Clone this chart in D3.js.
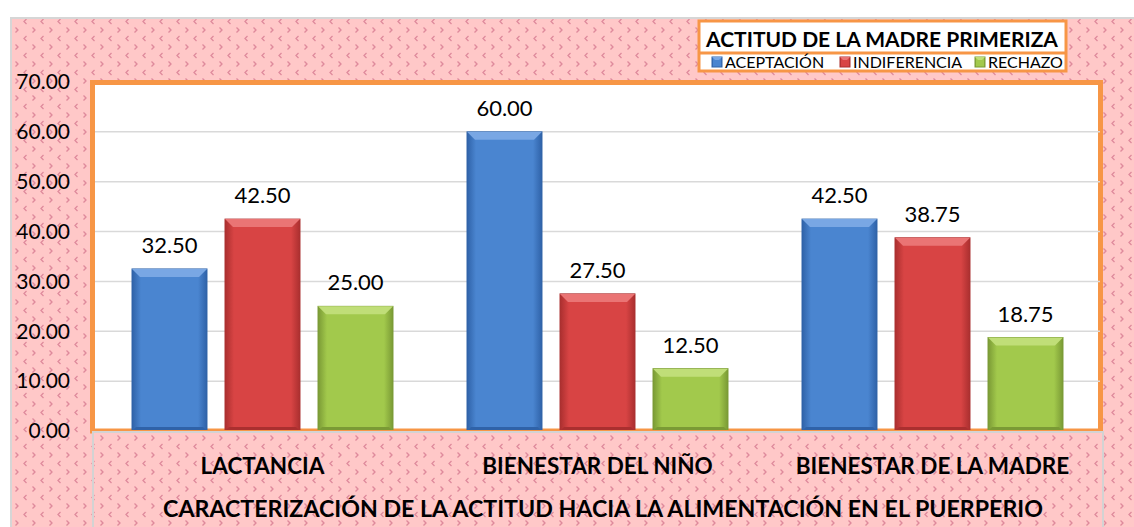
<!DOCTYPE html>
<html>
<head>
<meta charset="utf-8">
<script src="https://cdn.jsdelivr.net/npm/d3@7"></script>
<style>
  body { margin: 0; background: #fff; }
  svg text { font-family: Lato, "Open Sans", sans-serif; }
</style>
</head>
<body>
<svg id="chart" width="1134" height="527"></svg>
<script>
'use strict';

// data
const categories = ['LACTANCIA', 'BIENESTAR DEL NIÑO', 'BIENESTAR DE LA MADRE'];
const series = ['ACEPTACIÓN', 'INDIFERENCIA', 'RECHAZO'];
const aceptacion = [32.50, 60.00, 42.50];
const indiferencia = [42.50, 27.50, 38.75];
const rechazo = [25.00, 12.50, 18.75];
const yTicks = [0, 10, 20, 30, 40, 50, 60, 70];
const legendTitle = 'ACTITUD DE LA MADRE PRIMERIZA';
const axisTitle = 'CARACTERIZACIÓN DE LA ACTITUD HACIA LA ALIMENTACIÓN EN EL PUERPERIO';

const values = [aceptacion, indiferencia, rechazo];
const colors = {
	'ACEPTACIÓN':   { mid: '#4a85d0', edge: '#2f62a8', top: '#79a7e4' },
	'INDIFERENCIA': { mid: '#d84444', edge: '#aa2f2f', top: '#ea7474' },
	'RECHAZO':      { mid: '#a2c94c', edge: '#7a9a35', top: '#c0de78' }
};

const svg = d3.select('#chart');
const defs = svg.append('defs');

// - pink background with little chevrons
const pat = defs.append('pattern')
	.attr('id', 'pinkdots')
	.attr('patternUnits', 'userSpaceOnUse')
	.attr('width', 17).attr('height', 17);
pat.append('rect').attr('width', 17).attr('height', 17).attr('fill', '#ffc8c8');
pat.append('path').attr('d', 'M9.5,2 L7,4.5 L9.5,7').attr('fill', 'none').attr('stroke', '#df8a9c').attr('stroke-width', 1.3);
pat.append('path').attr('d', 'M15.5,10.5 L18,13 L15.5,15.5 M-1.5,10.5 L1,13 L-1.5,15.5').attr('fill', 'none').attr('stroke', '#df8a9c').attr('stroke-width', 1.3);

// - horizontal gradients for bars
series.forEach((s, i) => {
	const g = defs.append('linearGradient').attr('id', 'grad' + i)
		.attr('x1', 0).attr('x2', 1).attr('y1', 0).attr('y2', 0);
	g.append('stop').attr('offset', '0%').attr('stop-color', colors[s].edge);
	g.append('stop').attr('offset', '12%').attr('stop-color', colors[s].mid);
	g.append('stop').attr('offset', '88%').attr('stop-color', colors[s].mid);
	g.append('stop').attr('offset', '100%').attr('stop-color', colors[s].edge);
});

// outer chart area
svg.append('rect')
	.attr('x', 11).attr('y', 18).attr('width', 1140).attr('height', 530)
	.attr('fill', 'url(#pinkdots)').attr('stroke', '#d6d6d6').attr('stroke-width', 2);

// scales
const x0 = d3.scaleBand().domain(categories).range([95, 1100]);
const x1 = d3.scaleBand().domain(series).range([0, x0.bandwidth()])
	.paddingInner(0.194).paddingOuter(0.398);
const y = d3.scaleLinear().domain([0, 70]).range([431, 82]);

// plot area
svg.append('rect')
	.attr('x', 92.5).attr('y', 82.5).attr('width', 1008).attr('height', 348.5)
	.attr('fill', '#fff').attr('stroke', '#f79646').attr('stroke-width', 5);

// gridlines
svg.append('g')
	.selectAll('line')
	.data(yTicks.filter(d => d > 0 && d < 70))
	.join('line')
		.attr('x1', 95).attr('x2', 1100)
		.attr('y1', d => y(d)).attr('y2', d => y(d))
		.attr('stroke', '#d9d9d9').attr('stroke-width', 1.5);

// y axis labels
const yAxis = d3.axisLeft(y).tickValues(yTicks).tickFormat(d3.format('.2f')).tickSize(0).tickPadding(0);
svg.append('g')
	.attr('transform', 'translate(70,0)')
	.call(yAxis)
	.call(g => g.select('.domain').remove())
	.selectAll('text')
		.attr('font-size', 21).attr('fill', '#000')
		.style('font-family', 'Lato, "Open Sans", sans-serif');

// bars
const groups = svg.append('g')
	.selectAll('g')
	.data(categories)
	.join('g')
		.attr('transform', d => `translate(${x0(d)},0)`);

const bars = groups.selectAll('g')
	.data((c, ci) => series.map((s, si) => ({ cat: c, s: s, si: si, v: values[si][ci] })))
	.join('g');

const bw = x1.bandwidth();
const bev = 8;

bars.append('rect')
	.attr('x', d => x1(d.s))
	.attr('y', d => y(d.v))
	.attr('width', bw)
	.attr('height', d => y(0) - y(d.v))
	.attr('fill', d => `url(#grad${d.si})`)
	.attr('stroke', d => colors[d.s].edge)
	.attr('stroke-width', 1);

// top bevel
bars.append('path')
	.attr('d', d => {
		const xl = x1(d.s), xr = xl + bw, yt = y(d.v);
		return `M${xl},${yt} L${xr},${yt} L${xr - bev},${yt + bev} L${xl + bev},${yt + bev} Z`;
	})
	.attr('fill', d => colors[d.s].top);

// bottom shading
bars.append('path')
	.attr('d', d => {
		const xl = x1(d.s), xr = xl + bw, yb = y(0);
		return `M${xl},${yb} L${xr},${yb} L${xr - 4},${yb - 4} L${xl + 4},${yb - 4} Z`;
	})
	.attr('fill', d => colors[d.s].edge);

// value labels
bars.append('text')
	.attr('x', d => x1(d.s) + bw / 2)
	.attr('y', d => y(d.v) - 16)
	.attr('text-anchor', 'middle')
	.attr('font-size', 22)
	.attr('fill', '#000')
	.text(d => d.v.toFixed(2));

// baseline
svg.append('line')
	.attr('x1', 92).attr('x2', 1103).attr('y1', 431).attr('y2', 431)
	.attr('stroke', '#f79646').attr('stroke-width', 2);

// category box
svg.append('rect')
	.attr('x', 93).attr('y', 432).attr('width', 1010).attr('height', 110)
	.attr('fill', 'url(#pinkdots)').attr('stroke', '#d3d3d3').attr('stroke-width', 2);

svg.append('g')
	.selectAll('text')
	.data(categories)
	.join('text')
		.attr('x', d => x0(d) + x0.bandwidth() / 2)
		.attr('y', 474)
		.attr('text-anchor', 'middle')
		.attr('font-size', 22.5)
		.attr('font-weight', 'bold')
		.text(d => d);

svg.append('text')
	.attr('x', 603).attr('y', 517)
	.attr('text-anchor', 'middle')
	.attr('font-size', 23.2)
	.attr('font-weight', 'bold')
	.text(axisTitle);

// legend
const lg = svg.append('g');
lg.append('rect')
	.attr('x', 699).attr('y', 21).attr('width', 367).attr('height', 50)
	.attr('fill', '#fff').attr('stroke', '#f79646').attr('stroke-width', 3);
lg.append('line')
	.attr('x1', 699).attr('x2', 1066).attr('y1', 53).attr('y2', 53)
	.attr('stroke', '#f79646').attr('stroke-width', 3);
lg.append('text')
	.attr('x', 882).attr('y', 47)
	.attr('text-anchor', 'middle')
	.attr('font-size', 21)
	.attr('font-weight', 'bold')
	.text(legendTitle);

const legendX = [712, 840, 975];
const items = lg.selectAll('g.item')
	.data(series)
	.join('g')
		.attr('class', 'item')
		.attr('transform', (d, i) => `translate(${legendX[i]},57)`);
items.append('rect')
	.attr('width', 10).attr('height', 10)
	.attr('fill', (d, i) => `url(#grad${i})`)
	.attr('stroke', d => colors[d].edge);
items.append('path')
	.attr('d', 'M0,0 L10,0 L7,3 L3,3 Z')
	.attr('fill', d => colors[d].top);
items.append('text')
	.attr('x', 13).attr('y', 11)
	.attr('font-size', 16)
	.text(d => d);
</script>
</body>
</html>
